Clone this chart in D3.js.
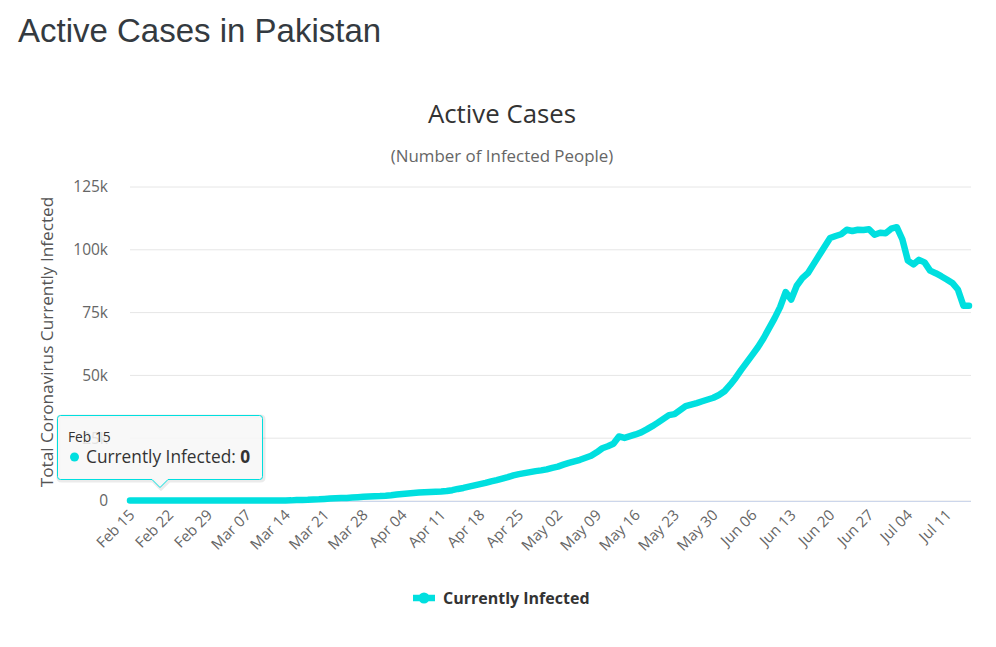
<!DOCTYPE html>
<html>
<head>
<meta charset="utf-8">
<script src="https://cdn.jsdelivr.net/npm/d3@7"></script>
<style>
  html, body { margin: 0; padding: 0; background: #fff; }
  svg { display: block; }
</style>
</head>
<body>
<svg id="chart" width="996" height="647"></svg>
<script>
// ---- DATA ----
const pageTitle = "Active Cases in Pakistan";
const chartTitle = "Active Cases";
const chartSubtitle = "(Number of Infected People)";
const yAxisTitle = "Total Coronavirus Currently Infected";
const seriesName = "Currently Infected";
const startDate = "2020-02-15";
const activeCases = [
  0, 0, 0, 0, 0, 0, 0, 0, 0, 0,
  0, 2, 2, 4, 4, 4, 5, 5, 5, 6,
  6, 6, 6, 16, 16, 19, 20, 28, 31, 50,
  180, 230, 290, 430, 480, 620, 760, 860, 950, 1000,
  1150, 1300, 1450, 1550, 1650, 1750, 1900, 2100, 2350, 2600,
  2800, 3000, 3150, 3300, 3400, 3500, 3600, 3750, 4100, 4600,
  5000, 5500, 6000, 6500, 7000, 7600, 8100, 8700, 9300, 10000,
  10500, 10900, 11300, 11700, 12000, 12400, 13000, 13500, 14300, 15000,
  15600, 16200, 17000, 17800, 19200, 20800, 21600, 22600, 25500, 24900,
  25600, 26300, 27100, 28300, 29600, 31000, 32500, 34000, 34400, 36000,
  37600, 38200, 38800, 39500, 40200, 40900, 42000, 43500, 46000, 48800,
  52000, 55000, 58000, 61000, 64500, 68500, 72500, 77000, 83000, 80000,
  85500, 88500, 90500, 94000, 97500, 101000, 104500, 105300, 106000, 107800,
  107300, 107800, 107700, 108000, 105800, 106600, 106400, 108200, 108800, 104000,
  95500, 94000, 95800, 94800, 91500, 90500, 89300, 88000, 86600, 84000,
  77500, 77500
];
const xTickLabels = ["Feb 15","Feb 22","Feb 29","Mar 07","Mar 14","Mar 21","Mar 28","Apr 04",
  "Apr 11","Apr 18","Apr 25","May 02","May 09","May 16","May 23","May 30","Jun 06","Jun 13",
  "Jun 20","Jun 27","Jul 04","Jul 11"];
const yTicks = [0, 25000, 50000, 75000, 100000, 125000];
const yTickLabels = ["0", "25k", "50k", "75k", "100k", "125k"];
const tooltipIndex = 0;

// ---- DRAW ----
const parse = d3.timeParse("%Y-%m-%d");
const fmt = d3.timeFormat("%b %d");
const start = parse(startDate);
const dates = activeCases.map((_, i) => d3.timeDay.offset(start, i));
const data = activeCases.map((v, i) => ({ date: dates[i], label: fmt(dates[i]), value: v }));

const svg = d3.select("#chart");
const font = "'Open Sans', 'Noto Sans', sans-serif";
const lineColor = "#00dfdf";

const x = d3.scaleTime().domain([dates[0], dates[dates.length - 1]]).range([130, 969]);
const y = d3.scaleLinear().domain([0, 125000]).range([500.5, 186.5]);

// page title
svg.append("text").attr("x", 18).attr("y", 42)
  .attr("font-family", "'Liberation Sans', Arial, sans-serif").attr("font-size", 33)
  .attr("fill", "#343a40").text(pageTitle);

// chart title & subtitle
svg.append("text").attr("x", 502).attr("y", 123).attr("text-anchor", "middle")
  .attr("font-family", font).attr("font-size", 25.8).attr("fill", "#333333").text(chartTitle);
svg.append("text").attr("x", 502).attr("y", 162).attr("text-anchor", "middle")
  .attr("font-family", font).attr("font-size", 16.9).attr("fill", "#666666").text(chartSubtitle);

// y grid
const yAxis = d3.axisLeft(y).tickValues(yTicks).tickSize(-(971 - 130))
  .tickFormat((d, i) => yTickLabels[i]);
const gy = svg.append("g").attr("transform", "translate(130,0)").call(yAxis);
gy.select(".domain").remove();
gy.selectAll(".tick line").attr("stroke", "#e6e6e6").attr("stroke-width", 1);
gy.selectAll(".tick text").attr("x", -22).attr("dy", "0.35em")
  .attr("font-family", font).attr("font-size", 15.5).attr("fill", "#666666");

// y axis title
svg.append("text").attr("transform", "translate(53,342) rotate(-90)")
  .attr("text-anchor", "middle").attr("font-family", font).attr("font-size", 17.2)
  .attr("fill", "#555555").text(yAxisTitle);

// x axis
const tickDates = xTickLabels.map((_, i) => dates[i * 7]);
const xAxis = d3.axisBottom(x).tickValues(tickDates).tickSize(0)
  .tickFormat((d, i) => xTickLabels[i]);
const gx = svg.append("g").attr("transform", "translate(0,501)").call(xAxis);
gx.select(".domain").attr("stroke", "#ccd6eb").attr("stroke-width", 1)
  .attr("d", "M130,0.5H971");
gx.selectAll(".tick text")
  .attr("font-family", font).attr("font-size", 15).attr("fill", "#666666")
  .attr("text-anchor", "end").attr("y", 0).attr("dy", 0)
  .attr("transform", "translate(5,15) rotate(-45)");

// line
const line = d3.line().x(d => x(d.date)).y(d => y(d.value));
svg.append("path").datum(data).attr("d", line)
  .attr("fill", "none").attr("stroke", lineColor).attr("stroke-width", 6.5)
  .attr("stroke-linejoin", "round").attr("stroke-linecap", "round");

// legend
const lg = svg.append("g");
lg.append("line").attr("x1", 413).attr("x2", 435).attr("y1", 598).attr("y2", 598)
  .attr("stroke", lineColor).attr("stroke-width", 6.5);
lg.append("circle").attr("cx", 424).attr("cy", 598).attr("r", 5.5).attr("fill", lineColor);
lg.append("text").attr("x", 443).attr("y", 604).attr("font-family", font)
  .attr("font-size", 16).attr("font-weight", "bold").attr("fill", "#333333").text(seriesName);

// tooltip
const tp = data[tooltipIndex];
const tg = svg.append("g");
const bx = 57.5, by = 415.5, bw = 205, bh = 64, r = 3, px = 160, ph = 8;
const tpath = `M${bx + r},${by} H${bx + bw - r} Q${bx + bw},${by} ${bx + bw},${by + r}
  V${by + bh - r} Q${bx + bw},${by + bh} ${bx + bw - r},${by + bh}
  H${px + 8} L${px},${by + bh + ph} L${px - 8},${by + bh}
  H${bx + r} Q${bx},${by + bh} ${bx},${by + bh - r} V${by + r} Q${bx},${by} ${bx + r},${by} Z`;
tg.append("path").attr("d", tpath).attr("transform", "translate(1,1)")
  .attr("fill", "none").attr("stroke", "#000").attr("stroke-opacity", 0.08).attr("stroke-width", 4);
tg.append("path").attr("d", tpath)
  .attr("fill", "#f7f7f7").attr("fill-opacity", 0.85)
  .attr("stroke", lineColor).attr("stroke-width", 1);
tg.append("text").attr("x", 68).attr("y", 442).attr("font-family", font)
  .attr("font-size", 13.8).attr("fill", "#333333").text(tp.label);
tg.append("circle").attr("cx", 74.5).attr("cy", 457).attr("r", 4.5).attr("fill", lineColor);
const tt = tg.append("text").attr("x", 86).attr("y", 463).attr("font-family", font)
  .attr("font-size", 17.3).attr("fill", "#333333");
tt.append("tspan").text(seriesName + ": ");
tt.append("tspan").attr("font-weight", "bold").text(d3.format(",")(tp.value));
</script>
</body>
</html>
